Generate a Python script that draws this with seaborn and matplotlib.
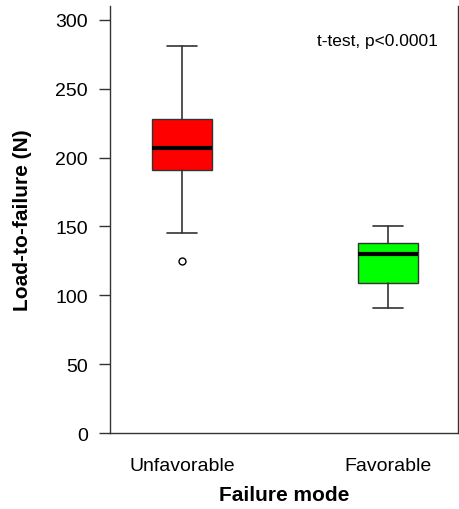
import matplotlib
matplotlib.use("Agg")
import matplotlib.pyplot as plt
import seaborn as sns

# Values
groups = ["Unfavorable", "Favorable"]
box_colors = ["#ff0000", "#00ff00"]
whisker_low = [145, 91]
q1 = [191, 109]
median = [207, 130]
q3 = [228, 138]
whisker_high = [281, 150]
outliers = [[125], []]
y_ticks = [0, 50, 100, 150, 200, 250, 300]

sns.set_style("white")
plt.rcParams["font.family"] = ["Liberation Sans", "DejaVu Sans"]
plt.rcParams["text.color"] = "black"
plt.rcParams["axes.labelcolor"] = "black"
plt.rcParams["xtick.color"] = "black"
plt.rcParams["ytick.color"] = "black"

fig = plt.figure(figsize=(4.59, 5.10), dpi=100)
ax = fig.add_axes([0.2397, 0.149, 0.7583, 0.837])

stats = []
for i, g in enumerate(groups):
    stats.append({
        "label": g,
        "whislo": whisker_low[i],
        "q1": q1[i],
        "med": median[i],
        "q3": q3[i],
        "whishi": whisker_high[i],
        "fliers": outliers[i],
    })

bp = ax.bxp(stats, positions=[1, 2], widths=0.29, patch_artist=True,
            showfliers=True,
            boxprops=dict(edgecolor="#333333", linewidth=1.0),
            medianprops=dict(color="black", linewidth=3),
            whiskerprops=dict(color="#333333", linewidth=1.2),
            capprops=dict(color="#333333", linewidth=1.2),
            capwidths=0.145,
            flierprops=dict(marker="o", markerfacecolor="white",
                            markeredgecolor="black", markersize=5,
                            markeredgewidth=1.0))
for patch, c in zip(bp["boxes"], box_colors):
    patch.set_facecolor(c)

ax.set_xlim(0.65, 2.34)
ax.set_ylim(0, 310)
ax.set_yticks(y_ticks)
ax.set_xticks([1, 2])
ax.set_xticklabels(groups)
ax.tick_params(axis="y", direction="out", length=8, width=1, color="#333333",
               labelsize=14, pad=8, left=True)
ax.tick_params(axis="x", length=0, labelsize=14, pad=17)

sns.despine(ax=ax, top=True, right=False)
for s in ["left", "right", "bottom"]:
    ax.spines[s].set_color("#333333")
    ax.spines[s].set_linewidth(1.0)

ax.set_ylabel("Load-to-failure (N)", fontsize=15, fontweight="bold", labelpad=17)
ax.set_xlabel("Failure mode", fontsize=15, fontweight="bold", labelpad=8)

ax.text(0.767, 0.92, "t-test, p<0.0001", transform=ax.transAxes,
        ha="center", va="center", fontsize=12.5)

fig.savefig("out.png", dpi=100)
